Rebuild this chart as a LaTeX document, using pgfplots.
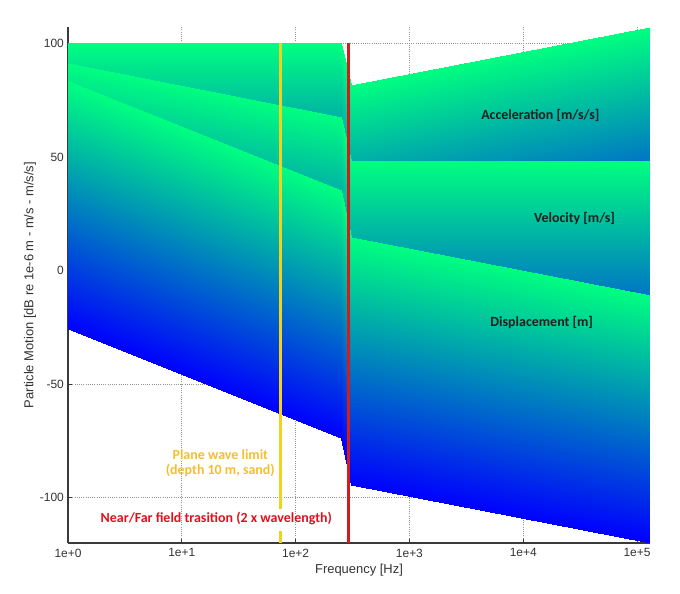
\documentclass[border=0pt]{standalone}
\usepackage{fontspec}
\setmainfont{Liberation Sans}
\newfontfamily\annfont{Carlito}
\usepackage{pgfplots}
\usepackage{pgfplotstable}
\pgfplotsset{compat=1.18}
\definecolor{ylw}{HTML}{F2D21A}
\definecolor{ylwtxt}{HTML}{F4BE30}
\definecolor{redl}{HTML}{D41C1C}
\definecolor{redtxt}{HTML}{E0101E}
\definecolor{spine}{HTML}{3A3A3A}
\definecolor{lbl}{HTML}{333333}

% bands: top edge (c=1) and bottom edge (c=0), 109 dB wide
\pgfplotstableread{
x y c
1 100 1
251 100 1
251 -9 0
1 -9 0
251 100 1
309 81.7 1
309 -27.3 0
251 -9 0
309 81.7 1
130000 107.2 1
130000 -1.8 0
309 -27.3 0
}\accel
\pgfplotstableread{
x y c
1 91.3 1
251 67.4 1
251 -41.6 0
1 -17.7 0
251 67.4 1
309 48.2 1
309 -60.8 0
251 -41.6 0
309 48.2 1
130000 48.2 1
130000 -60.8 0
309 -60.8 0
}\veloc
\pgfplotstableread{
x y c
1 83.3 1
251 35.3 1
251 -73.7 0
1 -25.7 0
251 35.3 1
309 14.7 1
309 -94.3 0
251 -73.7 0
309 14.7 1
130000 -11 1
130000 -120 0
309 -94.3 0
}\displ

\begin{document}
\begin{tikzpicture}
\useasboundingbox (-68bp,-51bp) rectangle (612bp,543bp);
\begin{axis}[
  at={(0,0)}, anchor=south west,
  scale only axis, width=582bp, height=516bp,
  xmode=log, xmin=1, xmax=130000, ymin=-120, ymax=107.2,
  axis x line*=bottom, axis y line*=left,
  axis line style={spine, line width=1.2bp},
  xtick={1,10,100,1000,10000,100000},
  xticklabels={1e+0,1e+1,1e+2,1e+3,1e+4,1e+5},
  ytick={-100,-50,0,50,100},
  yticklabels={-100,-50,0,50,100},
  xminorticks=false, yminorticks=false,
  grid=major,
  grid style={gray!85, line width=0.7bp, dash pattern=on 1bp off 1.2bp},
  tick align=inside, major tick length=4bp, tick style={spine, line width=0.8bp},
  xticklabel style={anchor=north, inner sep=0pt, yshift=-5.5bp, font=\fontsize{12}{14}\selectfont, text=lbl},
  yticklabel style={anchor=east, inner sep=0pt, xshift=-4bp, font=\fontsize{12}{14}\selectfont, text=lbl},
  colormap={winter}{rgb=(0,0,1) rgb=(0,1,0.5)},
  point meta min=0, point meta max=1,
]
\addplot[patch, patch type=rectangle, shader=interp, point meta=explicit] table[meta=c] {\accel};
\addplot[patch, patch type=rectangle, shader=interp, point meta=explicit] table[meta=c] {\veloc};
\addplot[patch, patch type=rectangle, shader=interp, point meta=explicit] table[meta=c] {\displ};
\addplot[ylw, line width=3.3bp] coordinates {(74,-104.9) (74,100)};
\addplot[ylw, line width=3.3bp] coordinates {(74,-120) (74,-114.5)};
\addplot[redl, line width=3.3bp] coordinates {(290,-120) (290,100)};
\node[font=\annfont\bfseries\fontsize{14}{15.5}\selectfont, text=black!88] at (axis cs:14130,68.3) {Acceleration [m/s/s]};
\node[font=\annfont\bfseries\fontsize{14}{15.5}\selectfont, text=black!88] at (axis cs:28230,23.0) {Velocity [m/s]};
\node[font=\annfont\bfseries\fontsize{14}{15.5}\selectfont, text=black!88] at (axis cs:14540,-22.8) {Displacement [m]};
\node[font=\annfont\bfseries\fontsize{14}{15.5}\selectfont, text=ylwtxt, align=center] at (axis cs:21.8,-84.8) {Plane wave limit\\(depth 10 m, sand)};
\node[font=\annfont\bfseries\fontsize{14}{15.5}\selectfont, text=redtxt] at (axis cs:20.1,-109.1) {Near/Far field trasition (2 x wavelength)};
\end{axis}
\node[font=\fontsize{13}{15}\selectfont, text=lbl] at (291bp,-27bp) {Frequency [Hz]};
\node[rotate=90, font=\fontsize{13}{15}\selectfont, text=lbl] at (-38bp,258bp) {Particle Motion [dB re 1e-6 m - m/s - m/s/s]};
\end{tikzpicture}
\end{document}
